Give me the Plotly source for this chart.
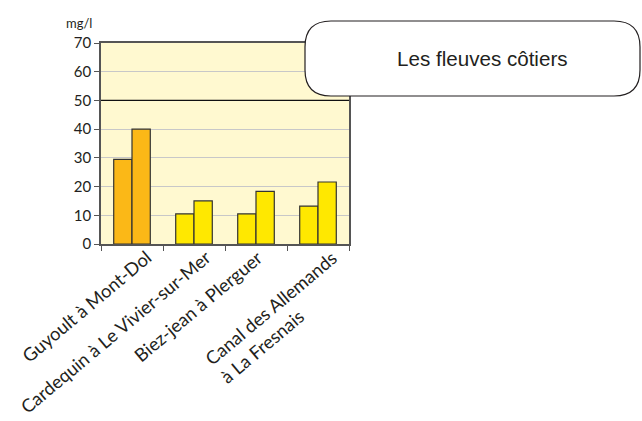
import plotly.graph_objects as go

# Stations on the coastal rivers
stations = [
    "Guyoult à Mont-Dol",
    "Cardequin à Le Vivier-sur-Mer",
    "Biez-jean à Plerguer",
    "Canal des Allemands<br>à La Fresnais",
]
# Two measurement series (mg/l)
serie_a = [29.5, 10.5, 10.5, 13.2]
serie_b = [40.0, 15.0, 18.3, 21.6]
seuil = 50  # reference threshold line
y_ticks = [0, 10, 20, 30, 40, 50, 60, 70]
titre = "Les fleuves côtiers"
unite = "mg/l"

ORANGE = "#FBB817"
JAUNE = "#FFE800"
bar_colors = [ORANGE, JAUNE, JAUNE, JAUNE]
TXT = "#231F20"
FONT = "Lato, Open Sans, sans-serif"
label_shift = [25, 22, 12, 40]  # horizontal nudge of each rotated label (px)

W, H = 642, 421
ML, MR, MT, MB = 101, 293, 43, 177

fig = go.Figure()
for vals in (serie_a, serie_b):
    fig.add_trace(go.Bar(
        x=stations, y=vals,
        marker=dict(color=bar_colors, line=dict(color="#333333", width=1.2)),
        showlegend=False, hoverinfo="x+y",
    ))

fig.update_layout(
    width=W, height=H,
    margin=dict(l=ML, r=MR, t=MT, b=MB),
    paper_bgcolor="white",
    plot_bgcolor="#FFF9D0",
    barmode="group",
    bargap=0.41,
    bargroupgap=0,
    font=dict(family=FONT, color=TXT),
)
fig.update_xaxes(
    type="category",
    range=[-0.5, len(stations) - 0.5],
    tickson="boundaries",
    showticklabels=False,
    ticks="outside", ticklen=5, tickcolor="#555555",
    showline=True, linecolor="#555555", linewidth=1.5, mirror=True,
    showgrid=False,
)
fig.update_yaxes(
    range=[0, 70],
    tickvals=y_ticks,
    ticks="outside", ticklen=5, tickcolor="#555555",
    showline=True, linecolor="#555555", linewidth=1.5, mirror=True,
    gridcolor="#C8C8C8", gridwidth=1,
    zeroline=False,
    tickfont=dict(size=15),
)

# rotated category labels, left-aligned lines, ending near each category centre
for i, s in enumerate(stations):
    fig.add_annotation(
        x=i, xref="x", y=-0.003, yref="paper",
        text=s, textangle=-40, align="left",
        xanchor="right", yanchor="top", xshift=label_shift[i],
        showarrow=False, borderpad=0,
        font=dict(size=18.3, family=FONT, color=TXT),
    )

# threshold line
fig.add_shape(type="line", xref="paper", yref="y", x0=0, x1=1, y0=seuil, y1=seuil,
              line=dict(color="#111111", width=1.3), layer="above")

# pixel -> paper conversion for the title box
pw, ph = W - ML - MR, H - MT - MB
def px(x):
    return (x - ML) / pw
def py(y):
    return (H - MB - y) / ph

x0, x1, y0, y1, r = 305, 640, 21, 96, 26
path = (
    f"M {px(x0 + r)},{py(y0)} L {px(x1 - r)},{py(y0)} "
    f"Q {px(x1)},{py(y0)} {px(x1)},{py(y0 + r)} "
    f"L {px(x1)},{py(y1 - r)} Q {px(x1)},{py(y1)} {px(x1 - r)},{py(y1)} "
    f"L {px(x0 + r)},{py(y1)} Q {px(x0)},{py(y1)} {px(x0)},{py(y1 - r)} "
    f"L {px(x0)},{py(y0 + r)} Q {px(x0)},{py(y0)} {px(x0 + r)},{py(y0)} Z"
)
fig.add_shape(type="path", xref="paper", yref="paper", path=path,
              fillcolor="white", line=dict(color=TXT, width=1.2), layer="above")

fig.add_annotation(text=titre, xref="paper", yref="paper",
                   x=px(482), y=py(58), showarrow=False,
                   font=dict(family="Liberation Sans, Arial", size=20.6, color=TXT),
                   xanchor="center", yanchor="middle")

fig.add_annotation(text=unite, xref="paper", yref="paper",
                   x=px(64), y=py(23), showarrow=False,
                   xanchor="left", yanchor="middle",
                   font=dict(size=13, family=FONT, color=TXT))

fig.write_html("out.html")
